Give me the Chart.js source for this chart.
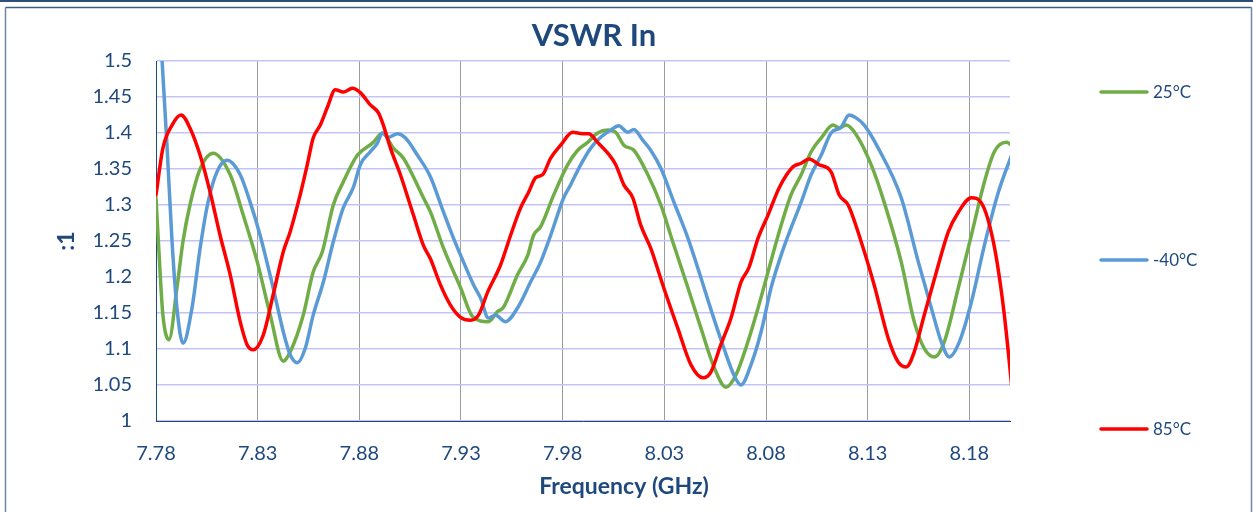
<!DOCTYPE html>
<html><head><meta charset="utf-8">
<script src="https://cdn.jsdelivr.net/npm/chart.js@4.4.1/dist/chart.umd.min.js"></script>
<style>html,body{margin:0;padding:0;background:#fff;}canvas{display:block;}</style>
</head><body>
<canvas id="c" width="1253" height="512"></canvas>
<script>
// ---- Data ----
const chartTitle = 'VSWR In';
const xAxisTitle = 'Frequency (GHz)';
const yAxisTitle = ':1';
const seriesLabels = ['25°C', '-40°C', '85°C'];

const xTickValues = [7.78, 7.83, 7.88, 7.93, 7.98, 8.03, 8.08, 8.13, 8.18];
const xTickLabels = ['7.78', '7.83', '7.88', '7.93', '7.98', '8.03', '8.08', '8.13', '8.18'];
const yTickValues = [1, 1.05, 1.1, 1.15, 1.2, 1.25, 1.3, 1.35, 1.4, 1.45, 1.5];
const yTickLabels = ['1', '1.05', '1.1', '1.15', '1.2', '1.25', '1.3', '1.35', '1.4', '1.45', '1.5'];

const freq25 = [7.7800,7.7820,7.7834,7.7864,7.7903,7.7933,7.7967,7.8017,7.8081,7.8165,7.8229,7.8298,7.8362,7.8426,7.8460,7.8524,7.8573,7.8618,7.8672,7.8721,7.8790,7.8869,7.8913,7.8967,7.9017,7.9115,7.9150,7.9214,7.9298,7.9357,7.9435,7.9480,7.9509,7.9578,7.9628,7.9657,7.9692,7.9756,7.9825,7.9874,7.9923,7.9972,8.0022,8.0061,8.0101,8.0150,8.0219,8.0283,8.0347,8.0416,8.0480,8.0544,8.0603,8.0652,8.0711,8.0761,8.0810,8.0860,8.0923,8.0973,8.1022,8.1071,8.1130,8.1160,8.1194,8.1243,8.1317,8.1381,8.1465,8.1529,8.1578,8.1628,8.1677,8.1746,8.1810,8.1874,8.1923,8.1982,8.2017];
const vswr25 = [1.31,1.207,1.147,1.113,1.185,1.25,1.30,1.35,1.372,1.342,1.286,1.221,1.147,1.083,1.096,1.147,1.207,1.235,1.30,1.332,1.369,1.387,1.40,1.379,1.365,1.31,1.29,1.24,1.185,1.145,1.138,1.152,1.158,1.203,1.23,1.258,1.27,1.314,1.356,1.376,1.387,1.40,1.404,1.401,1.383,1.376,1.342,1.30,1.244,1.185,1.129,1.075,1.047,1.064,1.11,1.157,1.207,1.258,1.314,1.342,1.374,1.393,1.411,1.407,1.411,1.398,1.356,1.304,1.221,1.138,1.101,1.089,1.11,1.185,1.258,1.332,1.374,1.387,1.381];

const freqM40 = [7.7810,7.7830,7.7854,7.7879,7.7903,7.7933,7.7977,7.8017,7.8056,7.8100,7.8150,7.8214,7.8263,7.8312,7.8376,7.8426,7.8460,7.8495,7.8534,7.8573,7.8623,7.8672,7.8721,7.8770,7.8805,7.8854,7.8889,7.8913,7.8943,7.8987,7.9027,7.9086,7.9150,7.9214,7.9263,7.9312,7.9362,7.9396,7.9435,7.9470,7.9519,7.9578,7.9642,7.9692,7.9741,7.9805,7.9839,7.9889,7.9938,7.9987,8.0036,8.0076,8.0120,8.0150,8.0194,8.0233,8.0283,8.0347,8.0416,8.0480,8.0529,8.0593,8.0642,8.0677,8.0726,8.0776,8.0825,8.0874,8.0923,8.0973,8.1022,8.1071,8.1120,8.1169,8.1209,8.1243,8.1283,8.1352,8.1465,8.1549,8.1613,8.1662,8.1701,8.1751,8.1810,8.1874,8.1943,8.2017];
const vswrM40 = [1.58,1.50,1.383,1.249,1.157,1.108,1.157,1.24,1.304,1.346,1.362,1.342,1.304,1.258,1.185,1.124,1.092,1.081,1.101,1.147,1.193,1.249,1.296,1.324,1.356,1.374,1.386,1.40,1.394,1.399,1.393,1.369,1.339,1.29,1.254,1.221,1.189,1.171,1.143,1.147,1.138,1.157,1.193,1.221,1.258,1.31,1.328,1.356,1.379,1.394,1.404,1.41,1.401,1.405,1.39,1.376,1.351,1.304,1.254,1.199,1.155,1.101,1.064,1.05,1.078,1.124,1.185,1.23,1.268,1.304,1.342,1.369,1.40,1.408,1.425,1.421,1.411,1.379,1.31,1.221,1.157,1.11,1.089,1.11,1.165,1.244,1.318,1.376];

const freq85 = [7.7800,7.7834,7.7879,7.7923,7.7967,7.8017,7.8066,7.8115,7.8165,7.8214,7.8248,7.8278,7.8327,7.8376,7.8426,7.8460,7.8509,7.8544,7.8573,7.8608,7.8642,7.8682,7.8721,7.8766,7.8805,7.8854,7.8894,7.8918,7.8953,7.9002,7.9066,7.9115,7.9150,7.9199,7.9248,7.9298,7.9347,7.9386,7.9431,7.9495,7.9544,7.9593,7.9633,7.9667,7.9701,7.9741,7.9790,7.9849,7.9899,7.9928,7.9972,8.0022,8.0061,8.0101,8.0145,8.0184,8.0233,8.0297,8.0366,8.0431,8.0490,8.0529,8.0578,8.0628,8.0677,8.0716,8.0761,8.0810,8.0865,8.0933,8.0973,8.1012,8.1061,8.1120,8.1160,8.1204,8.1268,8.1332,8.1401,8.1450,8.1490,8.1529,8.1578,8.1638,8.1697,8.1746,8.1810,8.1859,8.1918,8.1968,8.2017];
const vswr85 = [1.314,1.379,1.411,1.425,1.407,1.369,1.318,1.258,1.203,1.138,1.106,1.099,1.119,1.175,1.235,1.263,1.314,1.356,1.393,1.411,1.435,1.46,1.457,1.462,1.456,1.439,1.428,1.411,1.379,1.342,1.286,1.244,1.225,1.189,1.161,1.144,1.14,1.147,1.179,1.217,1.258,1.296,1.318,1.338,1.342,1.365,1.383,1.401,1.399,1.399,1.387,1.372,1.356,1.328,1.31,1.272,1.24,1.185,1.129,1.078,1.06,1.068,1.106,1.143,1.193,1.213,1.254,1.286,1.324,1.353,1.358,1.364,1.356,1.346,1.314,1.30,1.249,1.189,1.115,1.082,1.075,1.096,1.147,1.207,1.263,1.29,1.31,1.303,1.249,1.157,1.025];

// ---- Styles ----
const TXT = '#1F497D';
const FONT = 'Lato, "Open Sans", sans-serif';
const colors = ['#70AD47', '#5B9BD5', '#FF0000'];

const toPoints = (xs, ys) => xs.map((x, i) => ({x: x, y: ys[i]}));
const seriesData = [toPoints(freq25, vswr25), toPoints(freqM40, vswrM40), toPoints(freq85, vswr85)];
const drawOrder = [2, 1, 0];

const datasets = seriesLabels.map((label, i) => ({
  label: label,
  data: seriesData[i],
  borderColor: colors[i],
  backgroundColor: colors[i],
  borderWidth: 3.5,
  borderJoinStyle: 'round',
  borderCapStyle: 'round',
  pointRadius: 0,
  pointHoverRadius: 0,
  fill: false,
  cubicInterpolationMode: 'monotone',
  order: drawOrder[i]
}));

const decor = {
  id: 'decor',
  beforeDraw(chart) {
    const ctx = chart.ctx, W = chart.width, H = chart.height;
    ctx.save();
    ctx.fillStyle = '#ffffff';
    ctx.fillRect(0, 0, W, H);
    ctx.strokeStyle = '#2E4D7B';
    ctx.lineWidth = 2;
    ctx.beginPath(); ctx.moveTo(0, 1); ctx.lineTo(W, 1); ctx.stroke();
    ctx.lineWidth = 1.5;
    ctx.strokeStyle = '#3C5C8C';
    ctx.beginPath(); ctx.moveTo(5.5, 7.5); ctx.lineTo(1251.5, 7.5); ctx.stroke();
    ctx.strokeStyle = '#6F87AA';
    ctx.beginPath(); ctx.moveTo(5.5, 7.5); ctx.lineTo(5.5, H); ctx.moveTo(1251.5, 7.5); ctx.lineTo(1251.5, H); ctx.stroke();
    ctx.restore();
  },
  afterDraw(chart) {
    const ctx = chart.ctx;
    ctx.save();
    ctx.fillStyle = TXT;
    ctx.textAlign = 'center';
    ctx.textBaseline = 'alphabetic';
    ctx.font = 'bold 31px ' + FONT;
    ctx.fillText(chartTitle, 594, 46);
    ctx.font = 'bold 23px ' + FONT;
    ctx.fillText(xAxisTitle, 624, 494);
    // legend
    const legendY = [92, 260, 429];
    chart.data.datasets.forEach((ds, i) => {
      ctx.strokeStyle = ds.borderColor;
      ctx.lineWidth = 3.5;
      ctx.lineCap = 'round';
      ctx.beginPath(); ctx.moveTo(1101, legendY[i]); ctx.lineTo(1147, legendY[i]); ctx.stroke();
      ctx.fillStyle = TXT;
      ctx.textAlign = 'left';
      ctx.textBaseline = 'middle';
      ctx.font = '17px ' + FONT;
      ctx.fillText(ds.label, 1153, legendY[i] + 1);
    });
    ctx.restore();
  }
};

new Chart(document.getElementById('c'), {
  type: 'line',
  data: { datasets: datasets },
  plugins: [decor],
  options: {
    responsive: false,
    animation: false,
    devicePixelRatio: 1,
    layout: { padding: { top: 61, right: 243, bottom: 0, left: 0 } },
    plugins: { legend: { display: false }, title: { display: false }, tooltip: { enabled: false } },
    scales: {
      x: {
        type: 'linear',
        min: 7.78,
        max: 8.2,
        afterBuildTicks: (axis) => { axis.ticks = xTickValues.map(v => ({value: v})); },
        afterFit: (axis) => { axis.height = 91; },
        ticks: {
          callback: (v, i) => xTickLabels[i],
          color: TXT,
          font: { family: FONT, size: 20 },
          padding: 21,
          maxRotation: 0,
          autoSkip: false
        },
        grid: { color: '#9C9C9C', lineWidth: 1, drawTicks: false },
        border: { color: TXT, width: 1 }
      },
      y: {
        min: 1,
        max: 1.5,
        afterBuildTicks: (axis) => { axis.ticks = yTickValues.map(v => ({value: v})); },
        afterFit: (axis) => { axis.width = 156; },
        ticks: {
          callback: (v, i) => yTickLabels[i],
          color: TXT,
          font: { family: FONT, size: 20 },
          padding: 24,
          autoSkip: false
        },
        grid: { color: '#C3C3F7', lineWidth: 1.5, drawTicks: false },
        border: { color: TXT, width: 1 },
        title: {
          display: true,
          text: yAxisTitle,
          color: TXT,
          font: { family: FONT, size: 23, weight: 'bold' },
          padding: { top: 53, bottom: 0 }
        }
      }
    }
  }
});
</script>
</body></html>
